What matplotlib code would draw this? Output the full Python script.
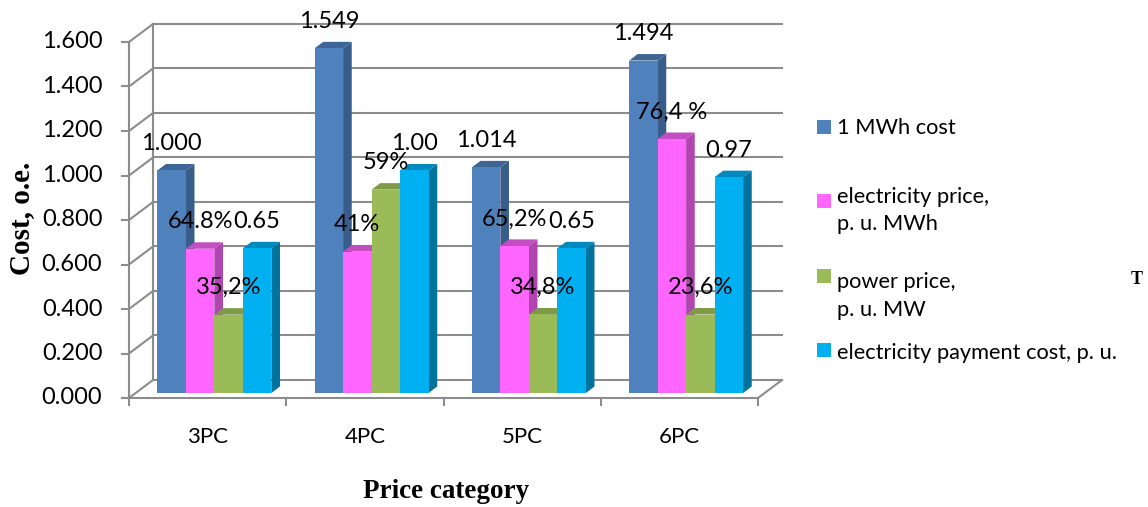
'''
    Cost of 1 MWh by price category, split into the energy and power parts.
'''

import numpy as np
import matplotlib.pyplot as plt
from matplotlib.patches import Polygon, Rectangle

# ============ #
# === Data === #
# ============ #

categories = ['3PC', '4PC', '5PC', '6PC']
mwh_cost = [1.000, 1.549, 1.014, 1.494]
payment_cost = [0.65, 1.00, 0.65, 0.97]
energy_share = [0.648, 0.41, 0.652, 0.764]
power_share = [0.352, 0.59, 0.348, 0.236]
energy_labels = ['64.8%', '41%', '65,2%', '76,4 %']
power_labels = ['35,2%', '59%', '34,8%', '23,6%']
y_ticks = np.arange(0, 1.61, 0.2)

series_names = ['1 MWh cost',
                'electricity price,\np. u. MWh',
                'power price,\np. u. MW',
                'electricity payment cost, p. u.']

energy_price = [c * s for c, s in zip(mwh_cost, energy_share)]
power_price = [c * s for c, s in zip(mwh_cost, power_share)]
values = [mwh_cost, energy_price, power_price, payment_cost]
labels = [[f'{v:.3f}' for v in mwh_cost], energy_labels, power_labels,
          [f'{v:.2f}' for v in payment_cost]]

# front, side, top colours
front_col = ['#4F81BD', '#FF66FF', '#9BBB59', '#00B0F0']
side_col = ['#385D8A', '#B045B0', '#71893F', '#00729C']
top_col = ['#3D6696', '#C24EC2', '#7E9A46', '#0089BC']

# ====================== #
# === Pseudo 3D axes === #
# ====================== #

W, H = 1148, 507
fig = plt.figure(figsize=(W / 100, H / 100), dpi=100)
ax = fig.add_axes([129 / W, (H - 398) / H, 629 / W, 356 / H])
ax.set_xlim(0, 4)
ax.set_ylim(0, 1.6)
ax.axis('off')

DX, DY = 0.1526, 0.0809      # full floor depth in data units
D0, D1 = 0.28, 0.64          # bar depth range
GAP, BAR_W = 0.1375, 0.18125
GRID = dict(color='#8C8C8C', lw=1.5, clip_on=False, zorder=1)
MONO = ['Lato', 'DejaVu Sans']


def proj(x, y, d):
    return (x + d * DX, y + d * DY)


# back wall and left wall
for v in y_ticks:
    p0, p1 = proj(0, v, 1), proj(4, v, 1)
    ax.plot([p0[0], p1[0]], [p0[1], p1[1]], **GRID)
    ax.plot([0, DX], [v, v + DY], **GRID)
    ax.plot([-0.045, 0], [v, v], **GRID)
    ax.text(-0.17, v, f'{v:.3f}', ha='right', va='center', fontsize=17,
            family=MONO)
ax.plot([0, 0], [0, 1.6], **GRID)
ax.plot([DX, DX], [DY, 1.6 + DY], **GRID)

# floor
ax.plot([0, 4, 4 + DX], [0, 0, DY], **GRID)
for k in range(len(categories) + 1):
    ax.plot([k, k], [0, -0.032], **GRID)
for k, name in enumerate(categories):
    ax.text(k + 0.5, -0.175, name, ha='center', va='center', fontsize=16,
            family=MONO)

# bars, left to right so the next front face hides the previous side
for i in range(len(categories)):
    for j, vals in enumerate(values):
        x0 = i + GAP + j * BAR_W
        x1 = x0 + BAR_W
        h = vals[i]
        side = [proj(x1, 0, D0), proj(x1, 0, D1), proj(x1, h, D1), proj(x1, h, D0)]
        top = [proj(x0, h, D0), proj(x1, h, D0), proj(x1, h, D1), proj(x0, h, D1)]
        front = [proj(x0, 0, D0), proj(x1, 0, D0), proj(x1, h, D0), proj(x0, h, D0)]
        for pts, col in ((side, side_col[j]), (top, top_col[j]), (front, front_col[j])):
            ax.add_patch(Polygon(pts, closed=True, fc=col, ec='none',
                                 clip_on=False, zorder=3))

# data labels
for i in range(len(categories)):
    for j, vals in enumerate(values):
        xc = i + GAP + (j + 0.5) * BAR_W
        ax.annotate(labels[j][i], proj(xc, vals[i], D0), xytext=(0, 19.4),
                    textcoords='offset points', ha='center', va='center',
                    fontsize=17, family=MONO, zorder=5, annotation_clip=False)

# axis titles
fig.text(22 / W, 1 - 218 / H, 'Cost, o.e.', rotation=90, ha='center',
         va='center', fontsize=21, fontweight='bold', family='Liberation Serif')
fig.text(446 / W, 1 - 492 / H, 'Price category', ha='center', va='center',
         fontsize=19.5, fontweight='bold', family='Liberation Serif')

# legend
legend_y = [127, 201, 276, 350]
text_y = [[128], [197, 224], [282, 310], [353]]
for j, name in enumerate(series_names):
    fig.patches.append(Rectangle((817 / W, 1 - (legend_y[j] + 7) / H),
                                 14 / W, 14 / H, transform=fig.transFigure,
                                 fc=front_col[j], ec='none'))
    for line, ty in zip(name.split('\n'), text_y[j]):
        fig.text(837 / W, 1 - ty / H, line, ha='left', va='center',
                 fontsize=15.7, family=MONO)
fig.text(1137 / W, 1 - 279 / H, 'T', ha='center', va='center', fontsize=13,
         fontweight='bold', family='Liberation Serif')

fig.savefig('out.png', dpi=100)
